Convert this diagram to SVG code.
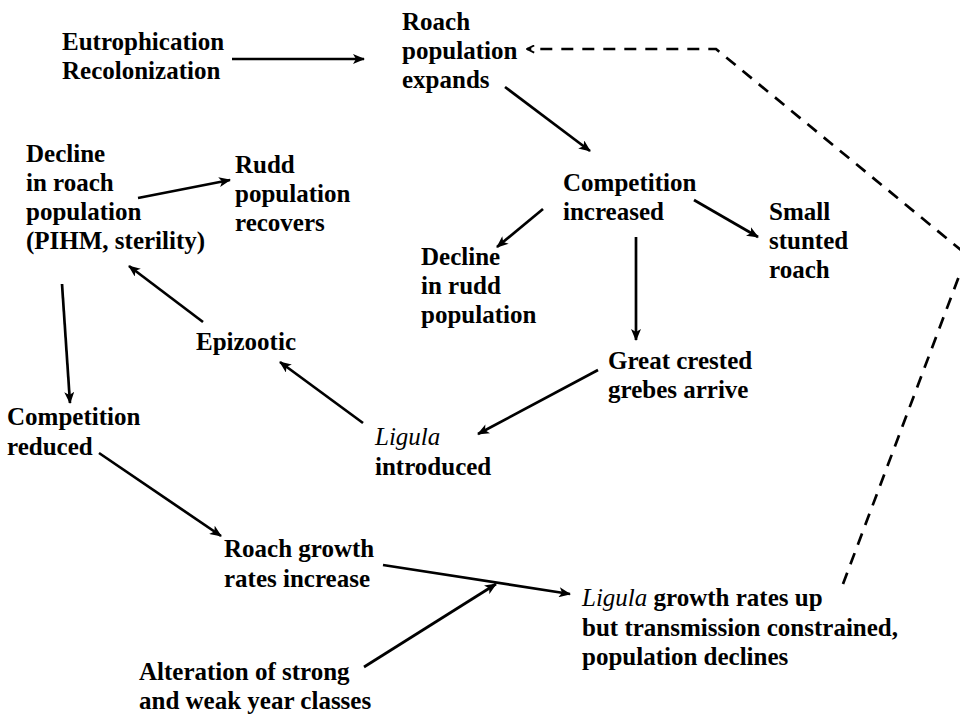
<svg xmlns="http://www.w3.org/2000/svg" width="960" height="716" viewBox="0 0 960 716">
  <defs>
    <marker id="arrow" viewBox="0 0 12 10" refX="11" refY="5" markerWidth="13" markerHeight="10" markerUnits="userSpaceOnUse" orient="auto">
      <path d="M0,0 L12,5 L0,10 L3,5 Z" fill="#000"/>
    </marker>
    <marker id="chevron" viewBox="0 0 10 10" refX="9" refY="5" markerWidth="9" markerHeight="9" markerUnits="userSpaceOnUse" orient="auto">
      <path d="M1,1 L9,5 L1,9" fill="none" stroke="#000" stroke-width="2"/>
    </marker>
  </defs>
  <style>
    .lbl { font-size: 25px; font-weight: bold; fill: #000; }
    .it { font-style: italic; font-weight: normal; }
    .link { fill: none; stroke: #000; stroke-width: 2.7; marker-end: url(#arrow); }
    .feedback { fill: none; stroke: #000; stroke-width: 2.7; stroke-dasharray: 12 9; marker-end: url(#chevron); }
  </style>
  <rect width="960" height="716" fill="#fff"/>

  <!-- causal links; the dashed polyline is the feedback loop back to roach expansion -->
  <g id="connectors">
    <line class="link" x1="232" y1="59" x2="364" y2="59"/>
    <line class="link" x1="505" y1="87" x2="590" y2="151"/>
    <line class="link" x1="543" y1="209" x2="497" y2="247"/>
    <line class="link" x1="694" y1="200" x2="758" y2="237"/>
    <line class="link" x1="636" y1="237" x2="636" y2="340"/>
    <line class="link" x1="598" y1="370" x2="478" y2="434"/>
    <line class="link" x1="363" y1="423" x2="280" y2="362"/>
    <line class="link" x1="203" y1="322" x2="129" y2="266"/>
    <line class="link" x1="138" y1="198" x2="230" y2="180"/>
    <line class="link" x1="62" y1="284" x2="70" y2="403"/>
    <line class="link" x1="99" y1="453" x2="221" y2="536"/>
    <line class="link" x1="383" y1="565" x2="570" y2="594"/>
    <line class="link" x1="364" y1="667" x2="496" y2="584"/>
    <polyline class="feedback" points="843,584 967,255 716,49 527,49"/>
  </g>

  <g class="lbl" font-family="'Liberation Serif', 'Times New Roman', 'DejaVu Serif', serif">
  <g id="eutrophication">
    <text x="62" y="50">Eutrophication</text>
    <text x="62" y="79">Recolonization</text>
  </g>
  <g id="roach-expands">
    <text x="402" y="30">Roach</text>
    <text x="402" y="59">population</text>
    <text x="402" y="88">expands</text>
  </g>
  <g id="competition-increased">
    <text x="563" y="191">Competition</text>
    <text x="563" y="220">increased</text>
  </g>
  <g id="small-stunted-roach">
    <text x="769" y="220">Small</text>
    <text x="769" y="249">stunted</text>
    <text x="769" y="278">roach</text>
  </g>
  <g id="decline-rudd">
    <text x="421" y="265">Decline</text>
    <text x="421" y="294">in rudd</text>
    <text x="421" y="323">population</text>
  </g>
  <g id="grebes">
    <text x="608" y="369">Great crested</text>
    <text x="608" y="398">grebes arrive</text>
  </g>
  <g id="ligula-introduced">
    <text x="375" y="445" class="it">Ligula</text>
    <text x="375" y="475">introduced</text>
  </g>
  <g id="epizootic">
    <text x="196" y="350">Epizootic</text>
  </g>
  <g id="decline-roach">
    <text x="26" y="162">Decline</text>
    <text x="26" y="191">in roach</text>
    <text x="26" y="220">population</text>
    <text x="26" y="249">(PIHM, sterility)</text>
  </g>
  <g id="rudd-recovers">
    <text x="235" y="173">Rudd</text>
    <text x="235" y="202">population</text>
    <text x="235" y="231">recovers</text>
  </g>
  <g id="competition-reduced">
    <text x="7" y="425">Competition</text>
    <text x="7" y="455">reduced</text>
  </g>
  <g id="roach-growth">
    <text x="224" y="557">Roach growth</text>
    <text x="224" y="587">rates increase</text>
  </g>
  <g id="year-classes">
    <text x="139" y="680">Alteration of strong</text>
    <text x="139" y="709">and weak year classes</text>
  </g>
  <g id="ligula-growth">
    <text x="582" y="606"><tspan class="it">Ligula</tspan> growth rates up</text>
    <text x="582" y="636">but transmission constrained,</text>
    <text x="582" y="665">population declines</text>
  </g>
  </g>
</svg>
